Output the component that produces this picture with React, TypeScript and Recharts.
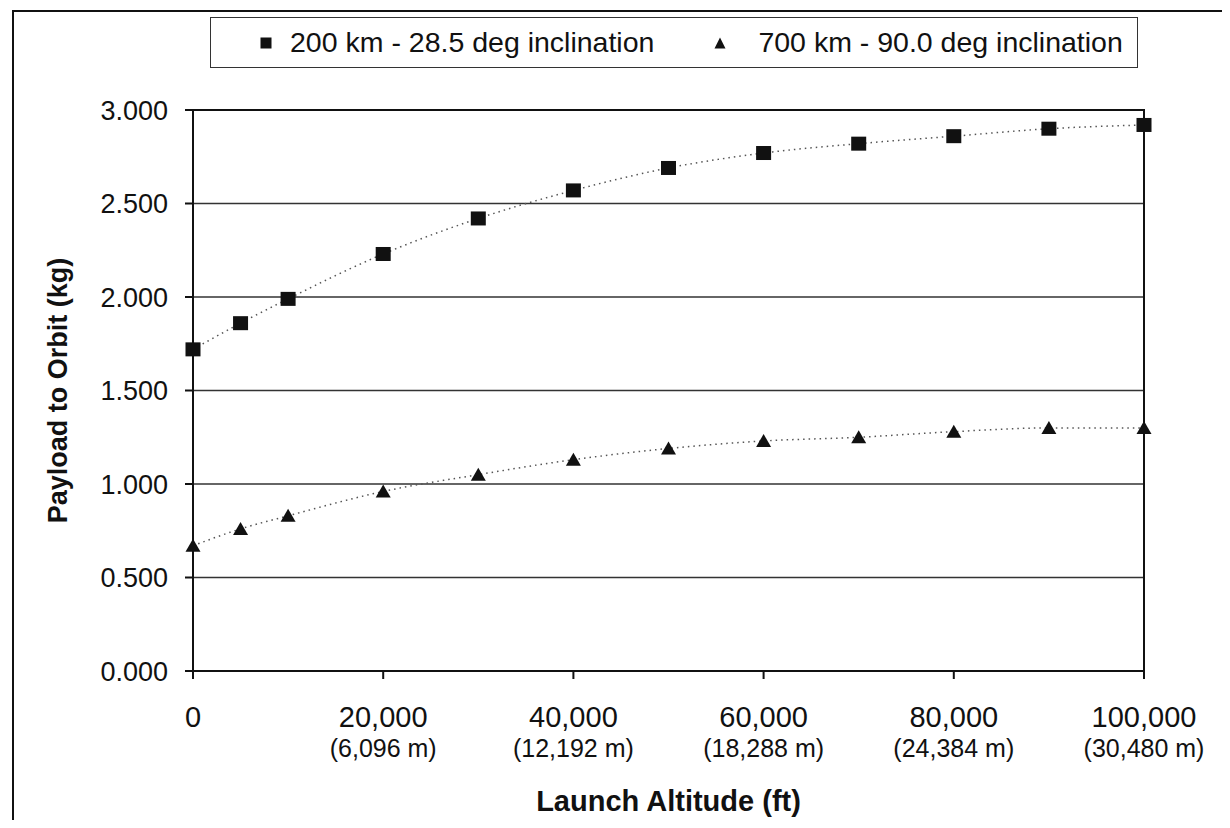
import React from 'react';
import {
  LineChart,
  Line,
  XAxis,
  YAxis,
  CartesianGrid,
  ReferenceArea,
} from 'recharts';

const altitudes = [0, 5000, 10000, 20000, 30000, 40000, 50000, 60000, 70000, 80000, 90000, 100000];
const payload200 = [1.72, 1.86, 1.99, 2.23, 2.42, 2.57, 2.69, 2.77, 2.82, 2.86, 2.9, 2.92];
const payload700 = [0.67, 0.76, 0.83, 0.96, 1.05, 1.13, 1.19, 1.23, 1.25, 1.28, 1.3, 1.3];

const altTicks = [0, 20000, 40000, 60000, 80000, 100000];
const altTickLabels = ['0', '20,000', '40,000', '60,000', '80,000', '100,000'];
const meterLabels = ['', '(6,096 m)', '(12,192 m)', '(18,288 m)', '(24,384 m)', '(30,480 m)'];
const payloadTicks = [0, 0.5, 1, 1.5, 2, 2.5, 3];

const seriesNames = ['200 km - 28.5 deg inclination', '700 km - 90.0 deg inclination'];

const data = altitudes.map((alt, i) => ({
  alt,
  low: payload200[i],
  polar: payload700[i],
}));

const FONT = '"Liberation Sans", Arial, sans-serif';

const SquareDot = (props: any) => {
  const { cx, cy } = props;
  if (cx == null || cy == null) return null;
  return <rect x={cx - 7.5} y={cy - 7} width={15} height={14} fill="#111" />;
};

const TriangleDot = (props: any) => {
  const { cx, cy } = props;
  if (cx == null || cy == null) return null;
  return <path d={`M${cx},${cy - 7} L${cx + 7.5},${cy + 6} L${cx - 7.5},${cy + 6} Z`} fill="#111" />;
};

const AltTick = (props: any) => {
  const { x, y, payload } = props;
  const i = altTicks.indexOf(payload.value);
  return (
    <g transform={`translate(${x},${y})`}>
      <text textAnchor="middle" y={48} fontSize={29} fill="#111" fontFamily={FONT}>
        {altTickLabels[i]}
      </text>
      {meterLabels[i] && (
        <text textAnchor="middle" y={78} fontSize={25} fill="#111" fontFamily={FONT}>
          {meterLabels[i]}
        </text>
      )}
    </g>
  );
};

const App = () => {
  return (
    <div style={{ margin: -8, position: 'relative', width: 1230, height: 828, background: '#fff' }}>
      {/* outer frame */}
      <div
        style={{
          position: 'absolute',
          left: 12,
          top: 10,
          width: 1212,
          height: 816,
          border: '2px solid #111',
          boxSizing: 'border-box',
        }}
      />

      {/* legend */}
      <div
        style={{
          position: 'absolute',
          left: 210,
          top: 17,
          width: 928,
          height: 51,
          border: '1.5px solid #333',
          boxSizing: 'border-box',
          display: 'flex',
          alignItems: 'center',
          paddingLeft: 49,
          fontFamily: FONT,
          fontSize: 28.5,
          color: '#111',
          background: '#fff',
          whiteSpace: 'nowrap',
          zIndex: 2,
        }}
      >
        <svg width={12} height={12} style={{ marginRight: 18 }}>
          <rect x={0.5} y={0.5} width={11} height={11} fill="#111" />
        </svg>
        <span style={{ marginRight: 60 }}>{seriesNames[0]}</span>
        <svg width={12} height={12} style={{ marginRight: 32 }}>
          <path d="M6,0.5 L11.5,11.5 L0.5,11.5 Z" fill="#111" />
        </svg>
        <span>{seriesNames[1]}</span>
      </div>

      <div style={{ position: 'absolute', left: 0, top: 0 }}>
        <LineChart
          width={1230}
          height={828}
          data={data}
          margin={{ top: 110, right: 86, bottom: 0, left: 0 }}
        >
          <CartesianGrid vertical={false} stroke="#333" strokeWidth={1.3} />
          <ReferenceArea x1={0} x2={100000} y1={0} y2={3} fill="none" stroke="#111" strokeWidth={2} ifOverflow="visible" />
          <XAxis
            type="number"
            dataKey="alt"
            domain={[0, 100000]}
            ticks={altTicks}
            interval={0}
            height={157}
            tickSize={8}
            tickMargin={0}
            stroke="#111"
            strokeWidth={2}
            tick={<AltTick />}
            label={{
              value: 'Launch Altitude (ft)',
              position: 'insideBottom',
              offset: 17,
              style: { fontFamily: FONT, fontSize: 29, fontWeight: 'bold', fill: '#111' },
            }}
          />
          <YAxis
            type="number"
            domain={[0, 3]}
            ticks={payloadTicks}
            interval={0}
            width={193}
            tickSize={8}
            tickMargin={17}
            stroke="#111"
            strokeWidth={2}
            tickFormatter={(v: number) => v.toFixed(3)}
            tick={{ fontFamily: FONT, fontSize: 27, fill: '#111' }}
            label={{
              value: 'Payload to Orbit (kg)',
              angle: -90,
              position: 'insideLeft',
              offset: 57,
              style: { fontFamily: FONT, fontSize: 27, fontWeight: 'bold', fill: '#111', textAnchor: 'middle' },
            }}
          />
          <Line
            type="monotone"
            dataKey="low"
            stroke="#555"
            strokeWidth={1.5}
            strokeDasharray="1.5 4"
            dot={<SquareDot />}
            activeDot={false}
            isAnimationActive={false}
          />
          <Line
            type="monotone"
            dataKey="polar"
            stroke="#555"
            strokeWidth={1.5}
            strokeDasharray="1.5 4"
            dot={<TriangleDot />}
            activeDot={false}
            isAnimationActive={false}
          />
        </LineChart>
      </div>
    </div>
  );
};

export default App;
